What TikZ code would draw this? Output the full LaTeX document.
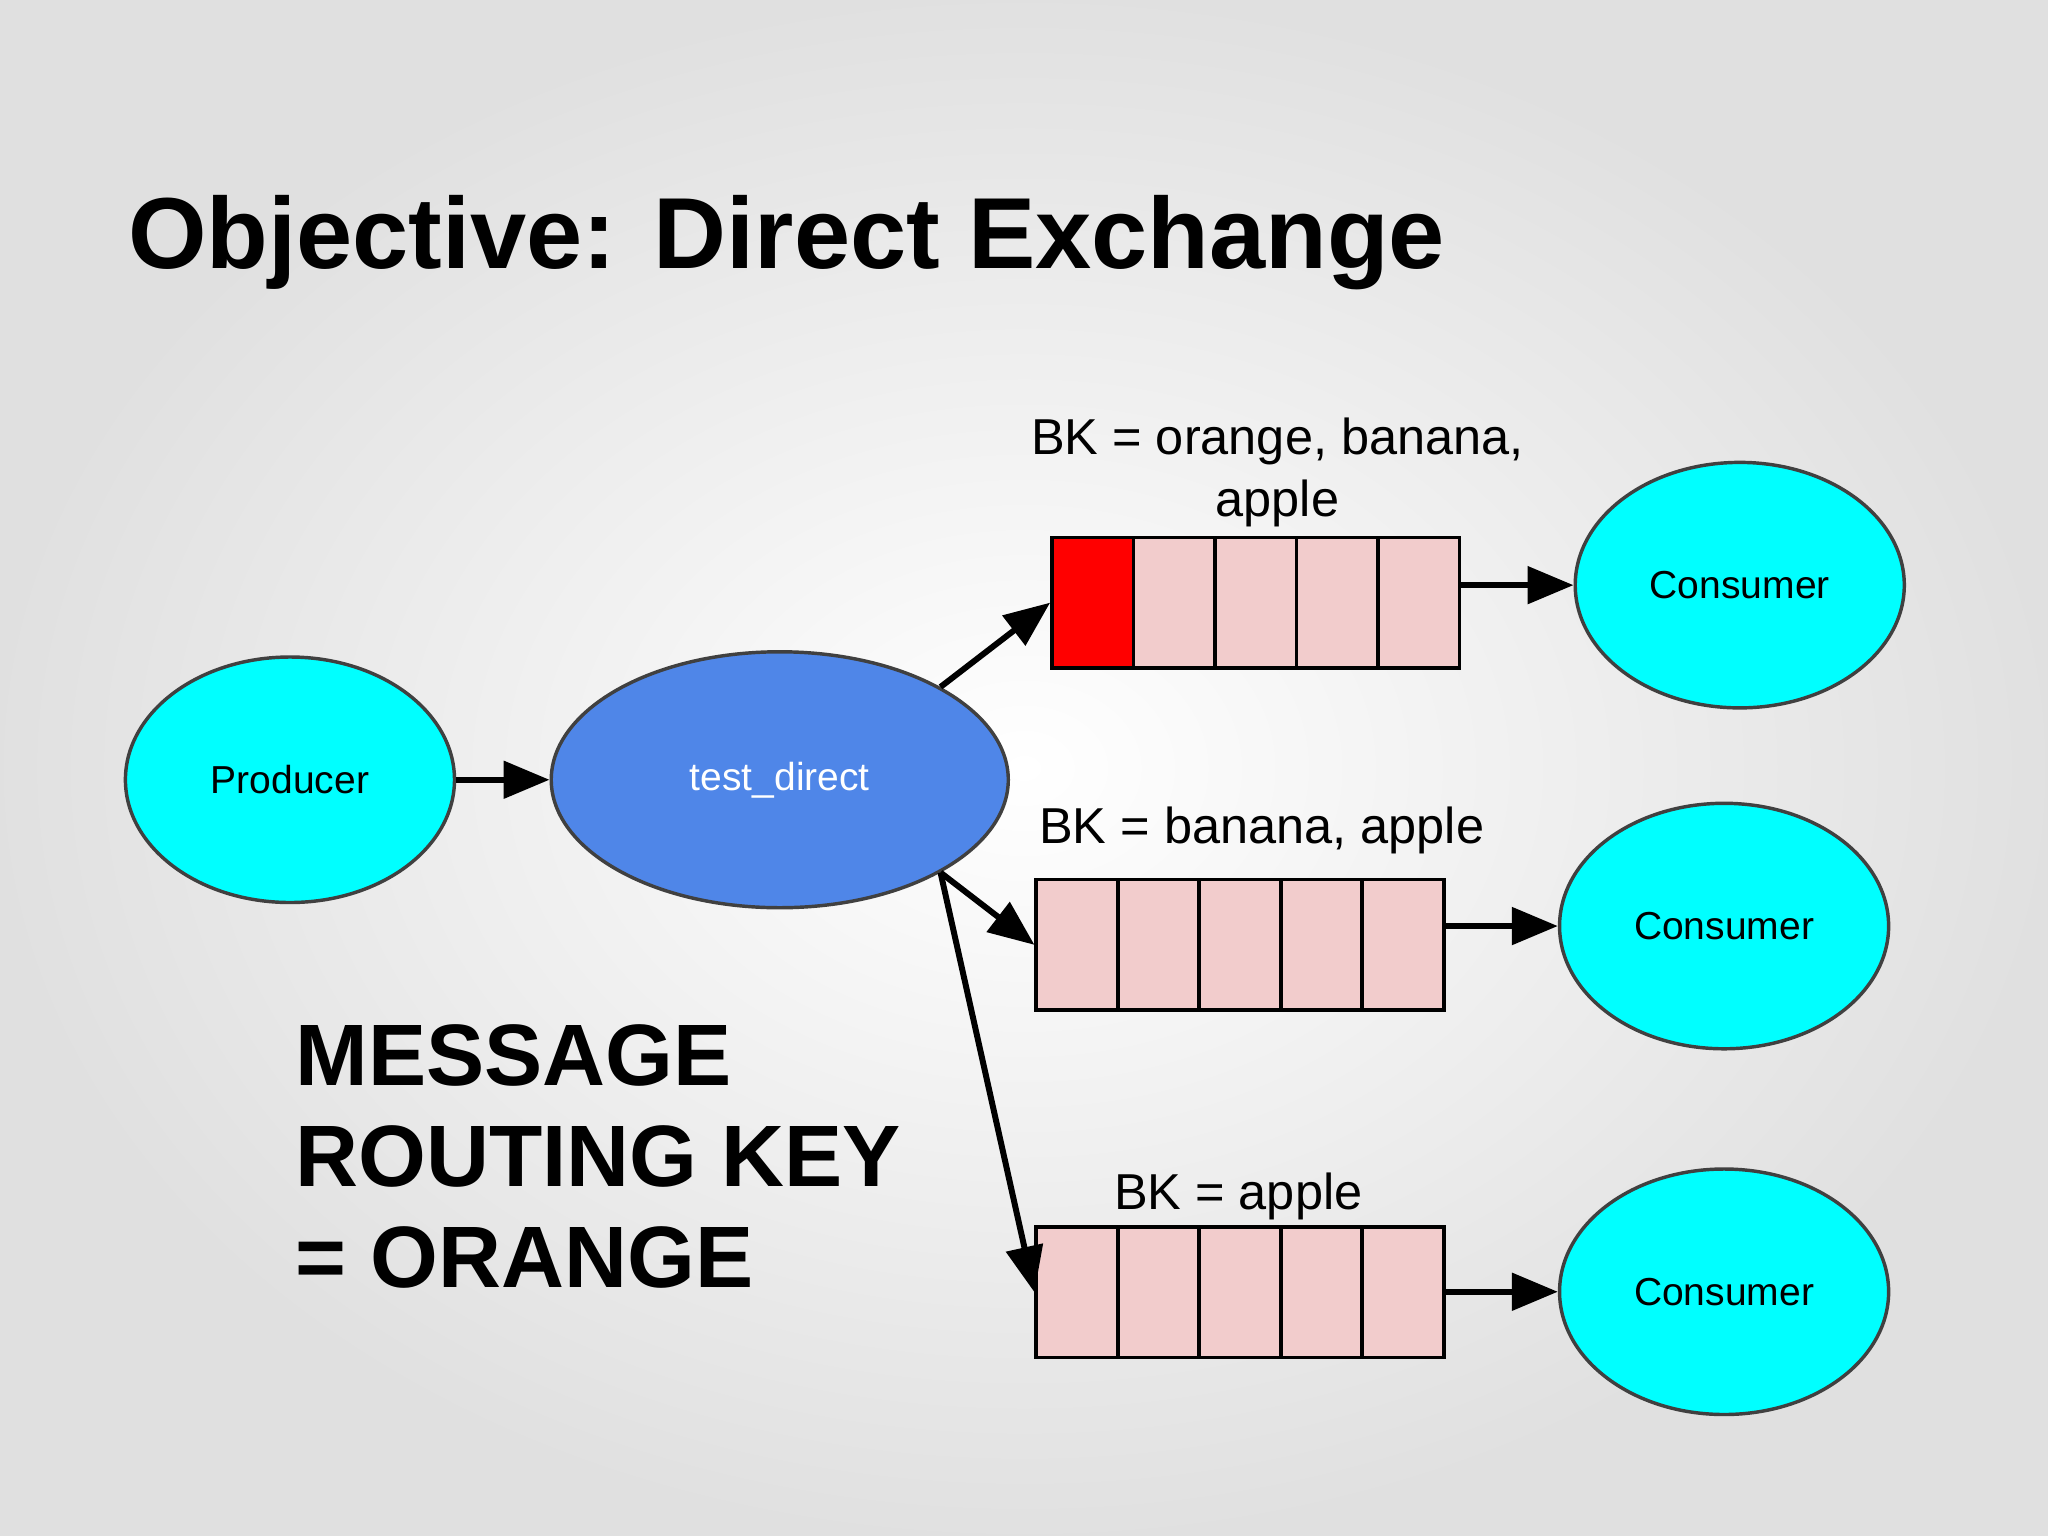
\documentclass[tikz,border=0pt]{standalone}
\usepackage{fontspec}
\setmainfont{Liberation Sans}
\usetikzlibrary{shapes.geometric,arrows.meta}
\definecolor{aqua}{RGB}{0,255,255}
\definecolor{qpink}{RGB}{242,204,204}
\begin{document}
\begin{tikzpicture}[x=0.02cm,y=-0.02cm,
  ell/.style={ellipse,draw=black!75,line width=1.5pt,inner sep=0pt},
  cons/.style={ell,fill=aqua,minimum width=5.04cm,minimum height=3.76cm,font=\fontsize{17}{20}\selectfont},
  cell/.style={draw=black,line width=1.6pt,fill=qpink,minimum width=62.4*0.02cm,minimum height=100*0.02cm,inner sep=0pt,anchor=north west},
  arr/.style={line width=2.6pt,-{Triangle[length=20pt,width=16pt]}},
  bk/.style={font=\fontsize{22}{27}\selectfont,align=center}]
\shade[inner color=white,outer color=black!12] (0,0) rectangle (1568,1176);
\useasboundingbox (0,0) rectangle (1568,1176);
\node[anchor=west,font=\fontsize{44}{54}\selectfont\bfseries] (title) at (92,186) {Objective: Direct Exchange};
\node[cons] (p) at (222,597) {Producer};
\node[ell,fill={rgb,255:red,79;green,134;blue,232},text=white,minimum width=7cm,minimum height=3.92cm,font=\fontsize{17}{20}\selectfont] (td) at (597,597) {test\_direct};
\foreach \q/\x/\y in {a/804/410,b/792/672,c/792/938}{
  \foreach \i in {1,...,5}{
    \node[cell] (\q\i) at ({\x+(\i-1)*62.4},\y) {};
  }
}
\node[cell,fill=red] at (a1.north west) {};
\node[cons] (k1) at (1332,448) {Consumer};
\node[cons] (k2) at (1320,709) {Consumer};
\node[cons] (k3) at (1320,989) {Consumer};
\node[bk] (l1) at (978,362) {BK = orange, banana,\\apple};
\node[bk] (l2) at (966,636) {BK = banana, apple};
\node[bk] (l3) at (948,916) {BK = apple};
\node[anchor=north west,align=left,font=\fontsize{38}{44}\selectfont\bfseries] (msg) at (220,778) {MESSAGE\\ROUTING KEY\\= ORANGE};
\draw[arr] (p) -- (td);
\draw[arr] (td.30) -- (a1.west);
\draw[arr] (td.-30) -- (b1.west);
\draw[arr] (td.-30) -- (c1.west);
\draw[arr] (a5.east |- k1) -- (k1);
\draw[arr] (b5.east |- k2) -- (k2);
\draw[arr] (c5.east |- k3) -- (k3);
\end{tikzpicture}
\end{document}
